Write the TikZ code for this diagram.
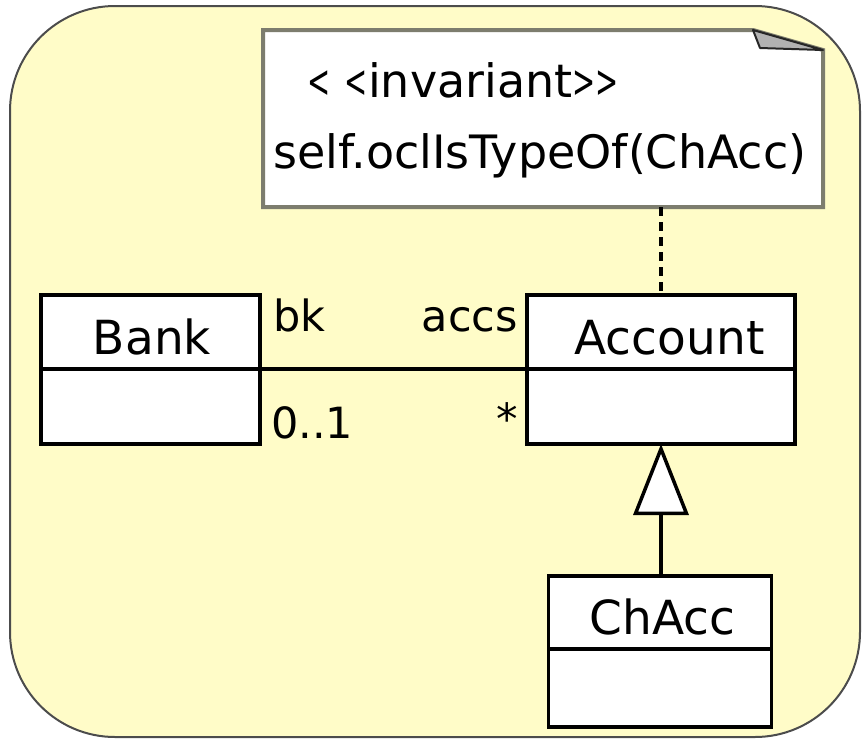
\documentclass[tikz,border=0pt]{standalone}
\usepackage{graphicx}
\usepackage{fontspec}
\setmainfont{DejaVu Sans}
\usetikzlibrary{arrows.meta}
\definecolor{bgyellow}{RGB}{255,252,200}
\definecolor{notegray}{RGB}{125,125,110}
\newcommand\umlLt{\scalebox{0.6}[1]{<}}
\newcommand\umlGt{\scalebox{0.6}[1]{>}}
\begin{document}
\begin{tikzpicture}[x=1pt,y=-1pt,
  compart/.style={draw=black, line width=3.5pt, fill=white, inner sep=0pt, outer sep=0pt},
  cname/.style={anchor=base, inner sep=0pt, font=\fontsize{47}{52}\selectfont},
  rolelabel/.style={inner sep=0pt, font=\fontsize{43}{48}\selectfont},
  notetext/.style={anchor=base, inner sep=0pt, font=\fontsize{46}{52}\selectfont},
  assoc/.style={draw=black, line width=3.5pt},
]
\useasboundingbox (0,0) rectangle (863,740);
% background
\draw[fill=bgyellow, draw=black!70, line width=2pt, rounded corners=105pt] (10,6) rectangle (860,737);

% note
\node[inner sep=0pt, outer sep=0pt, minimum width=560pt, minimum height=177pt] (note) at (543,118.5) {};
\draw[notegray, line width=4pt, fill=white]
  (note.north west) -- ([xshift=-70pt]note.north east) -- ([yshift=-20pt]note.north east)
  -- (note.south east) -- (note.south west) -- cycle;
\filldraw[fill=black!30, draw=black!85, line width=2pt, line join=round]
  ([xshift=-70pt]note.north east) -- ([yshift=-20pt]note.north east)
  -- ([xshift=-63pt,yshift=-18pt]note.north east) -- cycle;
\node[notetext] (stereo) at (463,97) {\umlLt\ \umlLt invariant\umlGt\umlGt};
\node[notetext] (ocl) at (540,168) {self.oclIsTypeOf(ChAcc)};

% classes
\node[compart, minimum width=219pt, minimum height=74pt] (bankN) at (150.5,332) {};
\node[compart, minimum width=219pt, minimum height=75pt] (bankB) at (150.5,406.5) {};
\node[compart, minimum width=268pt, minimum height=74pt] (acctN) at (661,332) {};
\node[compart, minimum width=268pt, minimum height=75pt] (acctB) at (661,406.5) {};
\node[compart, minimum width=223pt, minimum height=73pt] (chN) at (660,612.5) {};
\node[compart, minimum width=223pt, minimum height=78pt] (chB) at (660,688) {};

\node[cname] (bankT) at (152,354) {Bank};
\node[cname] (acctT) at (669.5,354) {Account};
\node[cname] (chT) at (662.5,634) {ChAcc};

% association
\draw[assoc] (bankN.south east) -- (acctN.south west);
\node[rolelabel, anchor=base west] (bk) at (273,331) {bk};
\node[rolelabel, anchor=base east] (accs) at (518,331) {accs};
\node[rolelabel, anchor=base west] (mult1) at (271,438) {0..1};
\node[rolelabel, anchor=base east] (multN) at (518,434) {*};

% note anchor line
\draw[assoc, dash pattern=on 9pt off 6pt] (acctN.north |- note.south) -- (acctN.north);

% generalization
\draw[assoc, -{Triangle[fill=white, length=71pt, width=55pt]}] (acctB.south |- chN.north) -- (acctB.south);
\end{tikzpicture}
\end{document}
